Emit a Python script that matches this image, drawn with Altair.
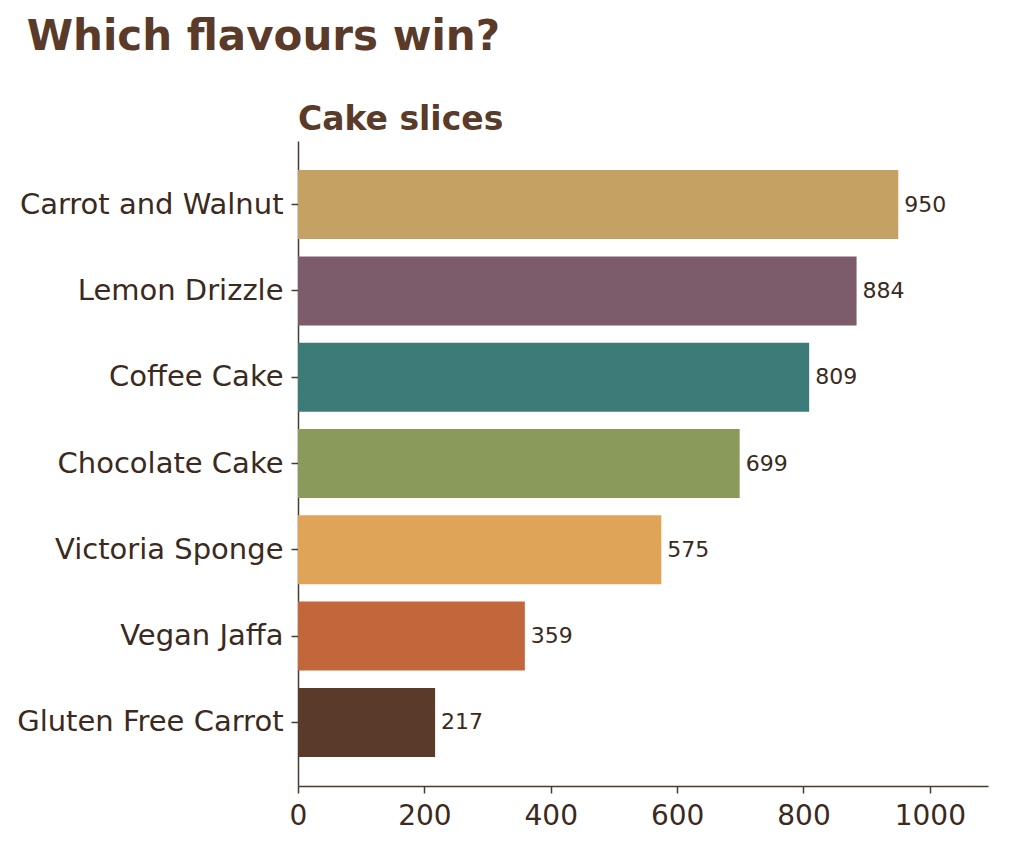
import altair as alt
import pandas as pd

flavours = ["Carrot and Walnut", "Lemon Drizzle", "Coffee Cake", "Chocolate Cake",
            "Victoria Sponge", "Vegan Jaffa", "Gluten Free Carrot"]
slices = [950, 884, 809, 699, 575, 359, 217]
colours = ["#c6a164", "#7c5b6b", "#3d7b79", "#8a9a5a", "#e0a458", "#c2673b", "#5a3a29"]
x_ticks = [0, 200, 400, 600, 800, 1000]

df = pd.DataFrame({"flavour": flavours, "slices": slices, "colour": colours})

TXT = "#3a2a20"
AX = "#4a3a30"
TITLE = "#5a3a29"
FONT = "DejaVu Sans"

y_enc = alt.Y("flavour:N", sort=flavours, title=None,
              scale=alt.Scale(paddingInner=0.2, paddingOuter=0.337),
              axis=alt.Axis(labelFontSize=29, labelColor=TXT, labelFont=FONT,
                            labelLimit=400, labelPadding=8, tickSize=7,
                            tickColor=AX, domainColor=AX, domainWidth=1.5,
                            tickWidth=1.5))
x_enc = alt.X("slices:Q", title=None,
              scale=alt.Scale(domain=[0, 1092], nice=False),
              axis=alt.Axis(values=x_ticks, format="d", labelFontSize=28,
                            labelColor=TXT, labelFont=FONT, labelPadding=9,
                            tickSize=7, tickColor=AX, domainColor=AX,
                            domainWidth=1.5, tickWidth=1.5, grid=False,
                            labelFlush=False))

bars = alt.Chart(df).mark_bar().encode(
    y=y_enc, x=x_enc,
    color=alt.Color("colour:N", scale=None),
)
text = alt.Chart(df).mark_text(align="left", baseline="middle", dx=6,
                               fontSize=22, font=FONT, color=TXT).encode(
    y=alt.Y("flavour:N", sort=flavours),
    x=alt.X("slices:Q"),
    text=alt.Text("slices:Q"),
)

inner = alt.layer(bars, text).properties(
    width=690, height=645,
    title=alt.TitleParams("Cake slices", anchor="start", frame="group",
                          fontSize=33, font=FONT, fontWeight="bold",
                          color=TITLE, offset=4),
)

chart = alt.vconcat(inner).properties(
    title=alt.TitleParams("Which flavours win?", anchor="start", fontSize=42,
                          font=FONT, fontWeight="bold", color=TITLE, dx=10,
                          offset=45),
    padding={"left": 8, "top": 8, "right": 10, "bottom": 5},
).configure_view(stroke=None).configure_axis(grid=False)

chart.save("out.html", embed_options={"renderer": "svg", "actions": False})
